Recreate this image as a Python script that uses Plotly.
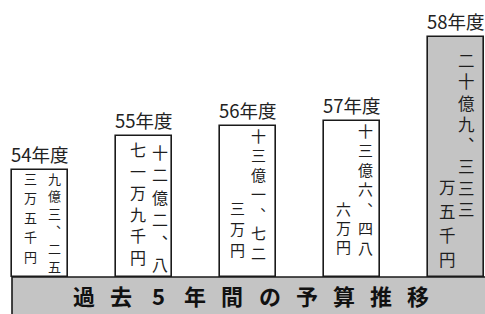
import plotly.graph_objects as go

# ---- data ----
years = ["54年度", "55年度", "56年度", "57年度", "58年度"]
budget_man_yen = [93253.5, 122871.9, 131723, 136486, 209333.5]   # 万円
right_cols = ["九億三︑二五", "十二億二︑八", "十三億一︑七二", "十三億六︑四八", "二十億九︑三三三"]
left_cols = ["三万五千円", "七一万九千円", "三万円", "六万円", "万五千円"]
title_chars = list("過去5年間の予算推移")

W, H = 485, 314
B = 37
PLOT_H = H - B
JP = "Noto Sans CJK JP"

fills = ["white", "white", "white", "white", "#c4c4c4"]

fig = go.Figure()
xs = list(range(len(years)))
fig.add_trace(go.Bar(
    x=xs, y=budget_man_yen, width=0.53,
    marker=dict(color=fills, line=dict(color="#1a1a1a", width=1.6)),
    hoverinfo="skip", showlegend=False,
))

ann = []
# year labels above bars
for i, (yr, v) in enumerate(zip(years, budget_man_yen)):
    ann.append(dict(x=i, y=v, text=yr, showarrow=False, xanchor="center",
                    yanchor="bottom", yshift=1,
                    font=dict(family=JP, size=18.5, color="#222")))

# vertical text layout (pixel positions of glyph centres, from top of figure)
col_font = [13, 16, 15, 15, 16.5]
r_dx = [14, 16, 10, 13, 10]
l_dx = [-10, -6, -11, -9, -9]
r_span = [(178, 266), (152, 264), (135, 252), (130, 247), (60, 209)]
l_span = [(178, 256), (149, 257), (207, 249), (208, 246), (187, 259)]


def column(i, chars, dx, span):
    n = len(chars)
    a, b = span
    for k, ch in enumerate(chars):
        cy = a + (b - a) * k / max(n - 1, 1)
        ann.append(dict(x=i, y=0, text=ch, showarrow=False,
                        xanchor="center", yanchor="middle",
                        xshift=dx, yshift=PLOT_H - cy, borderpad=0,
                        font=dict(family=JP, size=col_font[i], color="#1e1e1e")))


for i in range(len(years)):
    column(i, right_cols[i], r_dx[i], r_span[i])
    column(i, left_cols[i], l_dx[i], l_span[i])

# band title, characters spread evenly
x_start, x_end = 84 / W, 418 / W
n = len(title_chars)
for k, ch in enumerate(title_chars):
    ann.append(dict(xref="paper", yref="paper",
                    x=x_start + (x_end - x_start) * k / (n - 1),
                    y=-(B / 2 - 1) / PLOT_H, text=ch, showarrow=False,
                    xanchor="center", yanchor="middle",
                    font=dict(family=JP, size=22, color="#111", weight="bold")))

shapes = [dict(type="rect", xref="paper", yref="paper",
               x0=12 / W, x1=1.02, y0=-(B + 5) / PLOT_H, y1=0,
               fillcolor="#c4c4c4", line=dict(color="#1a1a1a", width=1.6),
               layer="below")]

ymax = budget_man_yen[-1] * PLOT_H / 240
fig.update_layout(
    width=W, height=H,
    margin=dict(l=0, r=0, t=0, b=B, pad=0),
    plot_bgcolor="white", paper_bgcolor="white",
    xaxis=dict(range=[-40 / 104, (W - 40) / 104], visible=False, fixedrange=True),
    yaxis=dict(range=[0, ymax], visible=False, fixedrange=True),
    annotations=ann, shapes=shapes, bargap=0,
)
fig.write_html("out.html", config={"displayModeBar": False},
               post_script="document.body.style.margin='0';document.body.style.overflow='hidden';")
